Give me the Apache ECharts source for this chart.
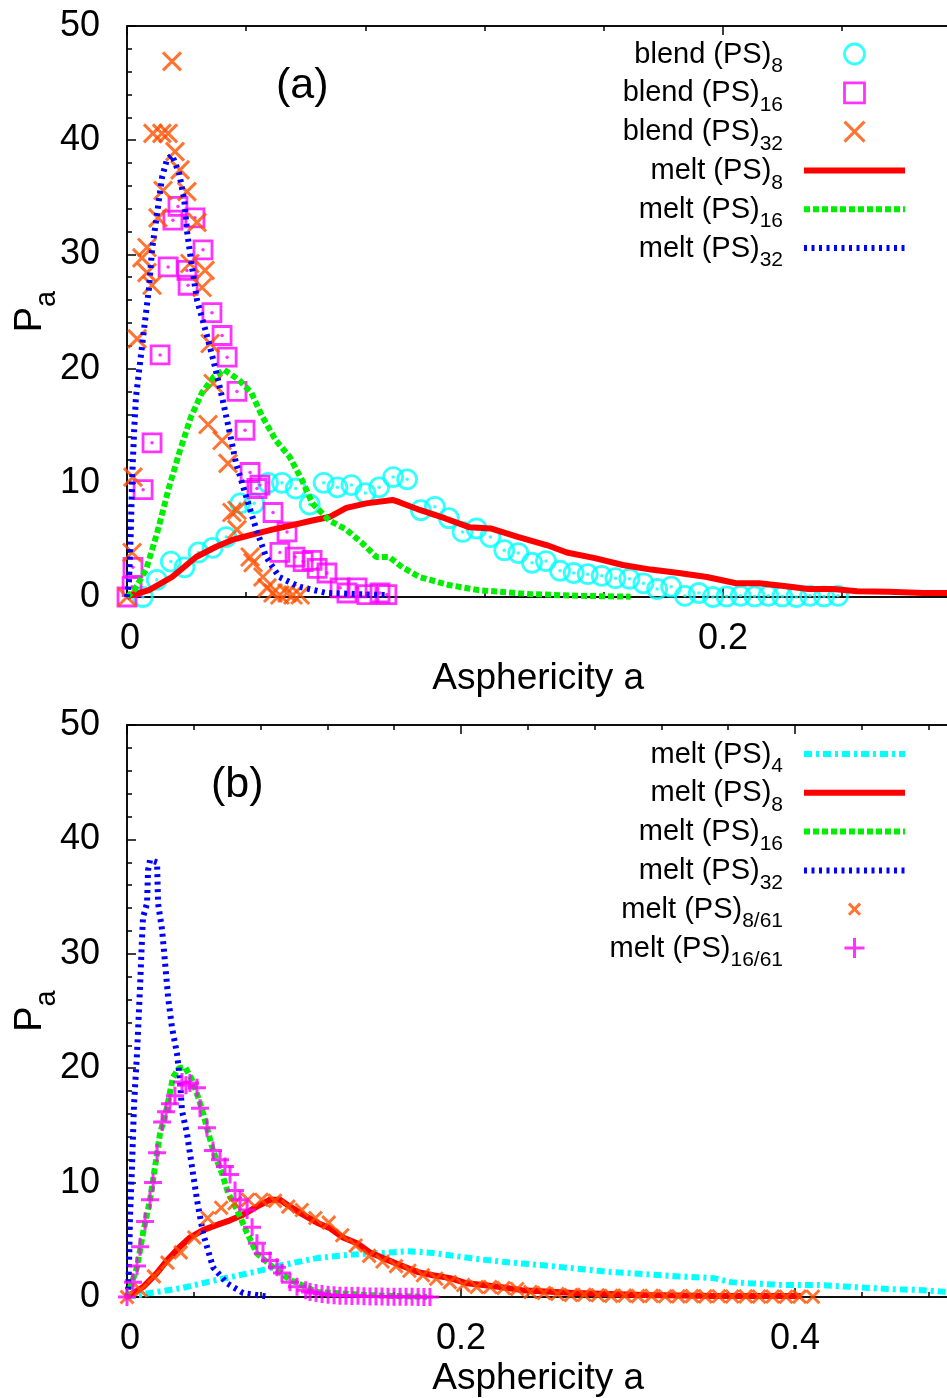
<!DOCTYPE html>
<html><head><meta charset="utf-8">
<script src="https://cdn.jsdelivr.net/npm/echarts@6/dist/echarts.min.js"></script>
<style>html,body{margin:0;padding:0;background:#fff}#c{width:947px;height:1398px}</style>
</head><body><div id="c"></div>
<script>
// ---------- Panel (a) data ----------
const a_blend8_x = [0.0053,0.0100,0.0147,0.0193,0.0240,0.0287,0.0333,0.0380,0.0427,0.0473,0.0520,0.0566,0.0613,0.0660,0.0706,0.0753,0.0800,0.0846,0.0893,0.0940,0.0986,0.1033,0.1080,0.1126,0.1173,0.1219,0.1266,0.1313,0.1359,0.1406,0.1453,0.1499,0.1546,0.1593,0.1639,0.1686,0.1733,0.1779,0.1826,0.1872,0.1919,0.1966,0.2012,0.2059,0.2106,0.2152,0.2199,0.2246,0.2292,0.2339,0.2386];
const a_blend8_y = [0,1.5,3.1,2.6,3.9,4.3,5.25,8.2,8.2,10.0,10.0,9.5,8.1,10.0,9.6,9.8,9.1,9.6,10.5,10.3,7.6,7.9,6.9,5.7,6.0,5.25,4.1,3.85,3.0,3.15,2.3,2.1,2.0,1.85,1.65,1.6,1.2,0.7,0.9,0.1,0.35,0,0.05,0.1,0.05,0.1,0.05,0,0.1,0.05,0.1];
const a_blend16_x = [0,0.0017,0.002,0.0054,0.0084,0.0111,0.0138,0.0154,0.0171,0.0201,0.0205,0.0228,0.0255,0.0285,0.0319,0.0336,0.0369,0.0396,0.0413,0.0436,0.0446,0.049,0.0513,0.0537,0.0564,0.0591,0.0621,0.0638,0.0671,0.0715,0.0738,0.0772,0.0805,0.0849,0.0872];
const a_blend16_y = [0,0.9,2.6,9.4,13.5,21.2,28.9,33.0,34.2,28.6,27.3,33.2,30.4,24.9,22.9,21.0,18.0,14.6,10.9,9.5,9.8,7.4,3.9,5.7,3.5,3.1,3.2,2.5,2.1,0.8,0.35,0.8,0.2,0.35,0.2];
const a_blend32_x = [0,0.0017,0.002,0.0034,0.005,0.0067,0.0067,0.0084,0.0087,0.0104,0.0117,0.0121,0.0138,0.0151,0.0161,0.0178,0.0201,0.0211,0.0235,0.0252,0.0262,0.0279,0.0289,0.0272,0.0319,0.0339,0.0352,0.0369,0.0369,0.0413,0.0423,0.0456,0.047,0.049,0.0513,0.0537,0.0557,0.0581];
const a_blend32_y = [0,3.9,10.5,22.6,29.7,30.6,28.4,27.3,40.6,33.2,40.6,35.6,40.6,46.9,39.0,37.4,35.5,29.2,32.8,27.1,28.6,22.2,18.7,15.1,13.7,11.7,7.4,7.6,5.9,3.5,3.0,1.75,0.8,0.35,0.17,0.35,0.17,0.17];
const a_melt8_x = [0,0.0017,0.0074,0.0151,0.0232,0.0299,0.0353,0.041,0.0487,0.0555,0.0622,0.0679,0.0736,0.0803,0.0891,0.0914,0.0985,0.1066,0.115,0.122,0.1314,0.1408,0.1476,0.157,0.1664,0.1758,0.1852,0.1946,0.2044,0.2121,0.2205,0.2286,0.237,0.245,0.2555,0.2672,0.2758,0.285];
const a_melt8_y = [0,0.17,0.6,1.75,3.5,4.4,5.0,5.4,5.9,6.3,6.7,7.0,7.8,8.2,8.5,8.3,7.6,6.9,6.1,6.0,5.25,4.55,3.9,3.4,2.8,2.4,2.1,1.75,1.2,1.2,0.96,0.7,0.7,0.5,0.45,0.35,0.35,0.3];
const a_melt16_x = [0,0.0024,0.0064,0.0101,0.0141,0.0175,0.0215,0.0252,0.0292,0.0326,0.0376,0.0417,0.0454,0.05,0.0545,0.0588,0.0622,0.0679,0.0736,0.079,0.0837,0.088,0.0924,0.0982,0.108,0.118,0.135,0.152,0.169];
const a_melt16_y = [0,0.6,2.4,5.6,9.6,12.6,15.8,17.9,19.3,19.9,19.0,17.9,15.8,13.7,12.3,10.2,8.2,6.7,5.9,4.7,3.5,3.5,2.6,1.75,1.05,0.6,0.26,0.1,0.03];
const a_melt32_x = [0,0.0007,0.0013,0.0017,0.0024,0.003,0.0057,0.0074,0.0084,0.0101,0.0118,0.0134,0.0151,0.0175,0.0192,0.0202,0.0218,0.0235,0.0266,0.0292,0.0319,0.0343,0.0366,0.04,0.0434,0.0467,0.0511,0.0578,0.0669,0.087];
const a_melt32_y = [0,1.5,5.9,10.2,14.6,17.5,23.4,27.1,30.4,33.6,36.8,38.3,38.7,37.1,34.8,31.9,28.9,26.0,23.1,20.5,17.5,14.6,11.7,8.8,5.9,3.5,1.75,0.9,0.35,0.17];

// ---------- Panel (b) data ----------
const b_melt4_x = [0,0.0138,0.0335,0.0539,0.0737,0.0934,0.1138,0.1335,0.1533,0.1677,0.1832,0.2054,0.2263,0.2473,0.2677,0.2886,0.3096,0.3305,0.3515,0.3617,0.3725,0.3934,0.4144,0.4353,0.4557,0.4766,0.491,0.52];
const b_melt4_y = [0,0.35,0.8,1.5,2.1,2.8,3.4,3.7,3.85,4.0,3.85,3.4,3.05,2.8,2.5,2.2,2.0,1.8,1.65,1.3,1.2,1.05,1.05,0.87,0.7,0.6,0.44,0.3];
const b_melt8_x = [0,0.0096,0.018,0.024,0.0317,0.0377,0.0455,0.0539,0.0617,0.0695,0.0778,0.0856,0.0916,0.0976,0.1054,0.1138,0.1216,0.1293,0.1377,0.1455,0.1533,0.1635,0.1737,0.1832,0.1934,0.2036,0.2132,0.2234,0.2365,0.2677,0.3096,0.3515,0.4036];
const b_melt8_y = [0,0.87,2.1,3.2,4.4,5.2,5.85,6.3,6.7,7.2,7.9,8.5,8.5,7.9,7.2,6.5,6.0,5.2,4.7,3.9,3.4,2.8,2.2,1.9,1.65,1.2,1.05,0.87,0.6,0.35,0.17,0.09,0.09];
const b_melt16_x = [0,0.006,0.0096,0.0138,0.0168,0.0198,0.024,0.0275,0.0311,0.0347,0.0389,0.0425,0.0455,0.0479,0.0515,0.0569,0.0605,0.0659,0.0719,0.0778,0.0874,0.0976,0.1138,0.1437,0.1796];
const b_melt16_y = [0,2.6,5.6,8.5,11.4,14.3,16.6,19.2,20.0,20.1,19.0,17.5,16.1,14.8,12.8,10.8,9.1,7.6,5.6,3.8,2.6,1.5,0.44,0.17,0];
const b_melt32_x = [0,0.0006,0.0012,0.0018,0.003,0.0042,0.006,0.0078,0.009,0.0096,0.012,0.0126,0.0138,0.018,0.0186,0.021,0.0228,0.0246,0.0269,0.0299,0.0317,0.0329,0.0359,0.0389,0.0419,0.0455,0.0515,0.0599,0.0695,0.0856];
const b_melt32_y = [0,0.35,2.6,7.0,11.4,16.8,21.3,27.1,31.4,33.2,34.4,37.3,38.2,38.0,34.4,32.1,29.2,26.2,23.6,21.3,19.0,16.3,14.3,11.4,8.5,5.6,2.6,1.2,0.35,0];
const b_melt8_61_x = [0,0.0081,0.0161,0.0242,0.0322,0.0403,0.0483,0.0564,0.0644,0.0725,0.0805,0.0886,0.0966,0.1047,0.1128,0.1208,0.1289,0.1369,0.145,0.153,0.1611,0.1691,0.1772,0.1852,0.1933,0.2013,0.2094,0.2175,0.2255,0.2336,0.2416,0.2497,0.2577,0.2658,0.2738,0.2819,0.2899,0.298,0.306,0.3141,0.3222,0.3302,0.3383,0.3463,0.3544,0.3624,0.3705,0.3785,0.3866,0.3946,0.4027,0.4107];
const b_melt8_61_y = [0,0.6,1.8,3.0,3.9,5.2,6.9,7.8,8.2,8.5,8.5,8.4,7.9,7.6,6.9,6.5,5.4,4.5,3.6,3.1,2.7,2.3,1.9,1.6,1.3,1.05,0.87,0.87,0.79,0.7,0.44,0.35,0.26,0.17,0.2,0.15,0.1,0.12,0.08,0.1,0.07,0.05,0.08,0.05,0.06,0.04,0.05,0.03,0.04,0.02,0.03,0.02];
const b_melt16_61_x = [0,0.0036,0.006,0.0078,0.0108,0.0138,0.0156,0.018,0.021,0.0234,0.0257,0.0287,0.0329,0.0353,0.0377,0.0419,0.0437,0.0479,0.0515,0.0557,0.0587,0.0617,0.0647,0.0677,0.0719,0.0749,0.0778,0.0814,0.0856,0.0898,0.0928,0.0976,0.1018,0.107,0.1096,0.1132,0.1168,0.1204,0.124,0.1275,0.1311,0.1347,0.1383,0.1419,0.1455,0.1491,0.1527,0.1563,0.1599,0.1635,0.1671,0.1707,0.1743,0.1778,0.1814];
const b_melt16_61_y = [0,1.3,2.7,4.4,6.6,8.5,10.0,12.6,15.3,16.2,16.9,17.6,18.8,18.5,18.7,18.3,16.5,14.8,12.8,12.0,11.4,10.7,9.3,8.5,7.6,6.1,4.7,3.8,3.2,2.6,2.1,1.3,0.9,0.6,0.44,0.35,0.26,0.2,0.15,0.12,0.1,0.08,0.1,0.06,0.05,0.05,0.04,0.03,0.03,0.02,0.02,0.02,0.01,0.01,0.01];

// ---------- Text ----------
const xTitle = 'Asphericity a';
const yTitleMain = 'P', yTitleSub = 'a';
const panelLabels = ['(a)', '(b)'];
const legendA_names = ['a_b8','a_b16','a_b32','a_m8','a_m16','a_m32'];
const legendA_main = ['blend (PS)','blend (PS)','blend (PS)','melt (PS)','melt (PS)','melt (PS)'];
const legendA_sub = ['8','16','32','8','16','32'];
const legendB_names = ['b_m4','b_m8','b_m16','b_m32','b_m861','b_m1661'];
const legendB_main = ['melt (PS)','melt (PS)','melt (PS)','melt (PS)','melt (PS)','melt (PS)'];
const legendB_sub = ['4','8','16','32','8/61','16/61'];
const yTicks = [0,10,20,30,40,50];

const FONT = '"Liberation Sans", Arial, Helvetica, sans-serif';
const zip = (xs, ys) => xs.map((x, i) => [x, ys[i]]);
const LEG = {};
legendA_names.forEach((n,i)=>LEG[n]=[legendA_main[i],legendA_sub[i]]);
legendB_names.forEach((n,i)=>LEG[n]=[legendB_main[i],legendB_sub[i]]);

const C = {cyan:'#00ffff', mag:'#ff00ff', org:'#ff5000', red:'#ff0000', green:'#00ee00', blue:'#0000ff'};
const X_PATH = 'path://M0,0L10,10M10,0L0,10';
const PLUS_PATH = 'path://M5,0L5,10M0,5L10,5';
const SQ_PATH = 'path://M0,0L10,0L10,10L0,10Z';

function fmtX(v){ const k=Math.round(v/0.2); if (Math.abs(v-k*0.2)>1e-9) return ''; return k===0?'{z|0}':(k*0.2).toFixed(1); }
const tickLine = {color:'#000', width:1.5};
function xAxes(g, max, namePadRight){
  const base = {gridIndex:g, type:'value', min:0, max:max, splitLine:{show:false}};
  return [
    Object.assign({}, base, {interval:0.2, position:'bottom',
      axisLine:{show:true,onZero:false,lineStyle:tickLine},
      axisTick:{show:true,inside:true,length:9,lineStyle:tickLine},
      axisLabel:{margin:24,fontSize:36,fontFamily:FONT,color:'#000',formatter:fmtX,showMaxLabel:false,
        rich:{z:{fontSize:36,fontFamily:FONT,color:'#000',padding:[0,0,0,6]}}},
      name:xTitle, nameLocation:'middle', nameGap:63, nameMoveOverlap:false,
      nameTextStyle:{fontSize:37,fontFamily:FONT,color:'#000',padding:[0,namePadRight,0,0]}}),
    Object.assign({}, base, {interval:0.04, position:'bottom',
      axisLine:{show:false,onZero:false}, axisTick:{show:true,inside:true,length:5,lineStyle:tickLine},
      axisLabel:{show:false}}),
    Object.assign({}, base, {interval:0.2, position:'top',
      axisLine:{show:true,onZero:false,lineStyle:tickLine}, axisTick:{show:true,inside:true,length:9,lineStyle:tickLine},
      axisLabel:{show:false}}),
    Object.assign({}, base, {interval:0.04, position:'top',
      axisLine:{show:false,onZero:false}, axisTick:{show:true,inside:true,length:5,lineStyle:tickLine},
      axisLabel:{show:false}})
  ];
}
function yAxis(g){
  return {gridIndex:g, type:'value', min:yTicks[0], max:yTicks[yTicks.length-1], interval:10, position:'left',
    axisLine:{show:true,onZero:false,lineStyle:tickLine},
    axisTick:{show:true,inside:true,length:9,lineStyle:tickLine},
    minorTick:{show:true,splitNumber:5,length:5,lineStyle:tickLine},
    axisLabel:{margin:27,fontSize:36,fontFamily:FONT,color:'#000'},
    splitLine:{show:false}, minorSplitLine:{show:false},
    name:'{p|'+yTitleMain+'}{s|'+yTitleSub+'}', nameLocation:'middle', nameGap:77, nameRotate:90, nameMoveOverlap:false,
    nameTextStyle:{color:'#000',fontFamily:FONT, rich:{
      p:{fontSize:38,lineHeight:38,verticalAlign:'top',fontFamily:FONT,color:'#000'},
      s:{fontSize:29,lineHeight:28,padding:[20,0,0,0],verticalAlign:'top',fontFamily:FONT,color:'#000'}}}
  };
}
function lineS(name, xi, yi, data, color, type){
  return {name, type:'line', xAxisIndex:xi, yAxisIndex:yi, data, symbol:'none', showSymbol:false,
    lineStyle:{color, width:6, type, cap:'butt'}, itemStyle:{color}, z:3, clip:true};
}
function scat(name, xi, yi, data, symbol, size, color, bw){
  return {name, type:'scatter', xAxisIndex:xi, yAxisIndex:yi, data, symbol, symbolSize:size,
    itemStyle:{color:'transparent', borderColor:color, borderWidth:bw}, z:2};
}
function dot(name, xi, yi, data, color){
  return {name, type:'scatter', xAxisIndex:xi, yAxisIndex:yi, data, symbol:'circle', symbolSize:3.5,
    itemStyle:{color}, z:2, silent:true};
}
const NOSYM = {itemStyle:{color:'transparent', borderWidth:0, borderColor:'transparent'}};
function legend(names, top, extra){
  return {show:true, orient:'vertical', align:'right', right:39, top, padding:0, itemGap:1.8,
    itemWidth:101, itemHeight:20, selectedMode:false, symbolKeepAspect:true,
    data: names.map(n => Object.assign({name:n}, (extra||{})[n]||{})),
    formatter: n => '{m|'+LEG[n][0]+'}{s|'+LEG[n][1]+'}',
    lineStyle:{width:'inherit'}, itemStyle:{borderWidth:'inherit'},
    textStyle:{color:'#000',fontFamily:FONT,fontSize:29,width:200,overflow:'none',padding:[0,16,0,0],
      rich:{m:{fontSize:29,lineHeight:28,verticalAlign:'top',fontFamily:FONT,color:'#000'},
            s:{fontSize:21,lineHeight:20,padding:[16,0,0,0],verticalAlign:'top',fontFamily:FONT,color:'#000'}}}
  };
}

const opt = {
  animation:false, backgroundColor:'#fff',
  grid:[
    {left:127, top:26, width:834.4, height:571, show:true, borderColor:'#000', borderWidth:1.5, containLabel:false, outerBoundsMode:'none'},
    {left:127, top:725, width:868.4, height:572, show:true, borderColor:'#000', borderWidth:1.5, containLabel:false, outerBoundsMode:'none'}
  ],
  xAxis:[].concat(xAxes(0,0.28,12), xAxes(1,0.52,46)),
  yAxis:[yAxis(0), yAxis(1)],
  legend:[
    legend(legendA_names, 40, {a_b16:{icon:SQ_PATH}, a_m8:NOSYM, a_m16:NOSYM, a_m32:NOSYM}),
    legend(legendB_names, 740, {b_m4:NOSYM, b_m8:NOSYM, b_m16:NOSYM, b_m32:NOSYM, b_m861:{icon:'path://M-4,-4M0,0L10,10M10,0L0,10M14,14'}})
  ],
  graphic:[
    {type:'text', x:276, y:86, style:{text:panelLabels[0], font:'43px '+FONT, fill:'#000', verticalAlign:'middle'}},
    {type:'text', x:211, y:785, style:{text:panelLabels[1], font:'43px '+FONT, fill:'#000', verticalAlign:'middle'}}
  ],
  series:[
    scat('a_b8',0,0,zip(a_blend8_x,a_blend8_y),'circle',19,C.cyan,2.8),
    dot('a_b8_dot',0,0,zip(a_blend8_x,a_blend8_y),C.cyan),
    scat('a_b16',0,0,zip(a_blend16_x,a_blend16_y),'rect',18,C.mag,2.8),
    dot('a_b16_dot',0,0,zip(a_blend16_x,a_blend16_y),C.mag),
    scat('a_b32',0,0,zip(a_blend32_x,a_blend32_y),X_PATH,18,C.org,3),
    lineS('a_m8',0,0,zip(a_melt8_x,a_melt8_y),C.red,'solid'),
    lineS('a_m16',0,0,zip(a_melt16_x,a_melt16_y),C.green,[6,3]),
    lineS('a_m32',0,0,zip(a_melt32_x,a_melt32_y),C.blue,[3,4.5]),
    lineS('b_m4',4,1,zip(b_melt4_x,b_melt4_y),C.cyan,[8,4,3,4]),
    lineS('b_m8',4,1,zip(b_melt8_x,b_melt8_y),C.red,'solid'),
    lineS('b_m16',4,1,zip(b_melt16_x,b_melt16_y),C.green,[6,3]),
    lineS('b_m32',4,1,zip(b_melt32_x,b_melt32_y),C.blue,[3,4.5]),
    Object.assign(scat('b_m861',4,1,zip(b_melt8_61_x,b_melt8_61_y),X_PATH,13,C.org,3),{z:4}),
    Object.assign(scat('b_m1661',4,1,zip(b_melt16_61_x,b_melt16_61_y),PLUS_PATH,18,C.mag,3),{z:4})
  ]
};
const chart = echarts.init(document.getElementById('c'), null, {renderer:'canvas'});
chart.setOption(opt);
</script></body></html>
